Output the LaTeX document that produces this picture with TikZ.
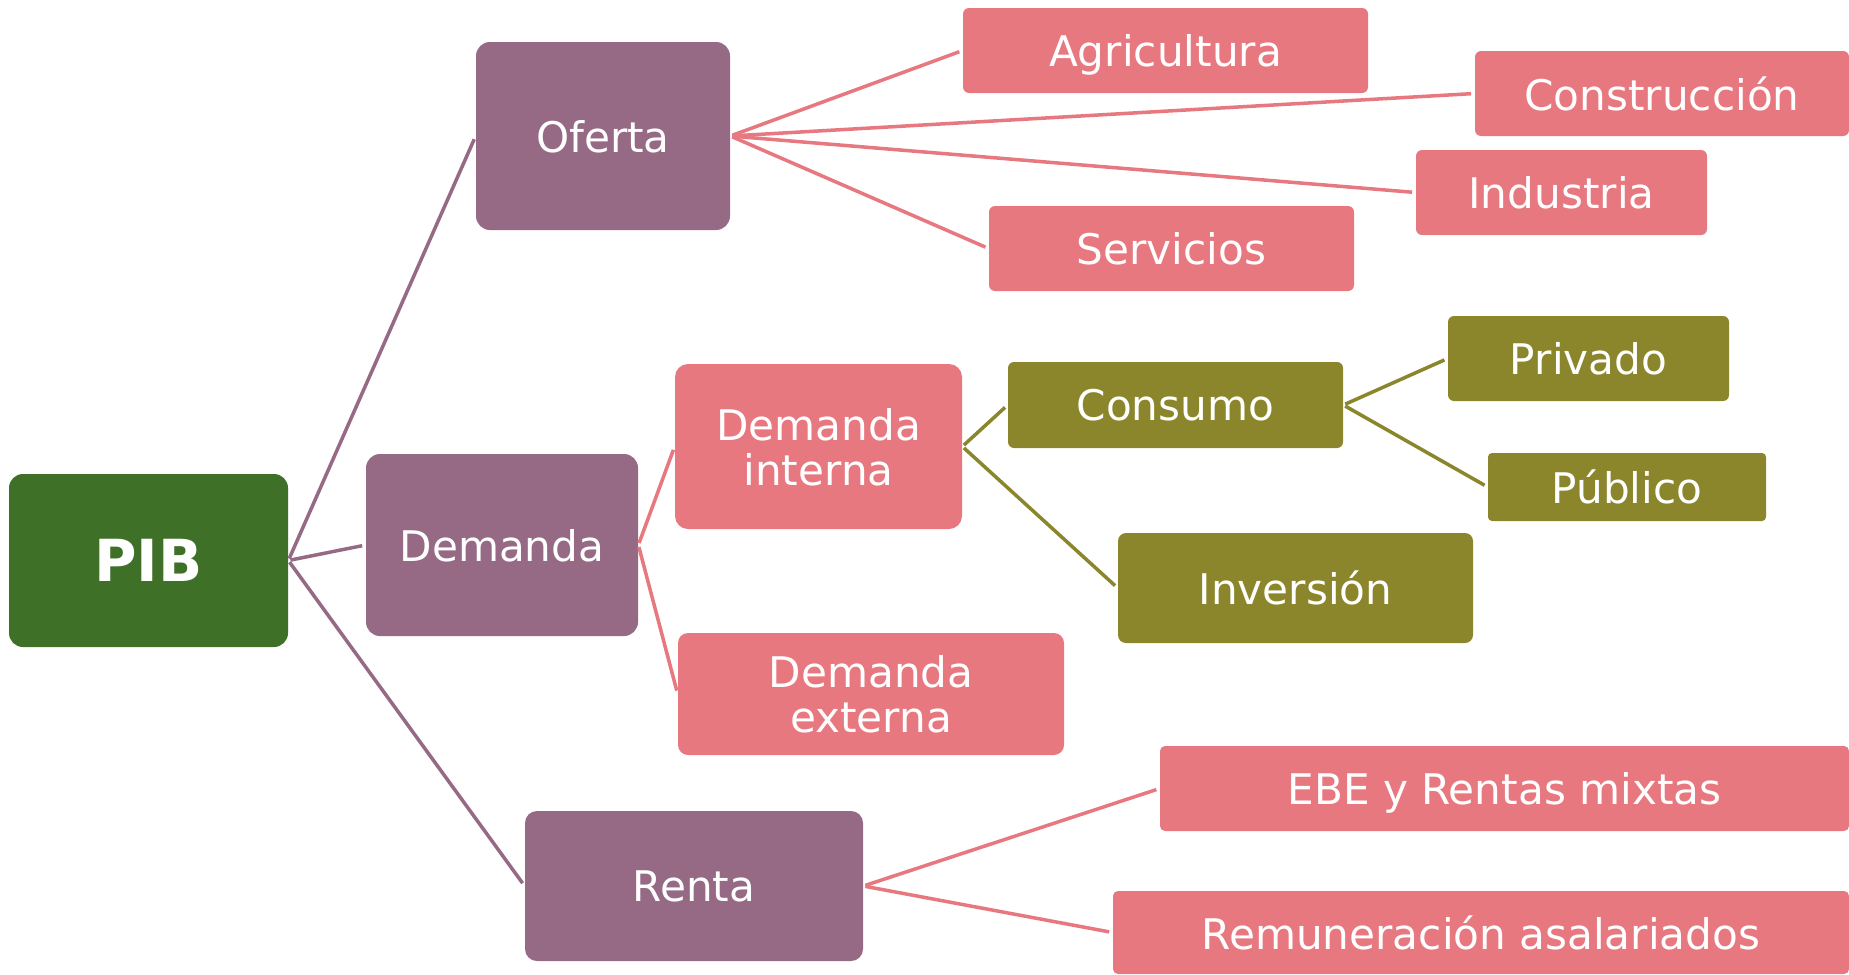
\documentclass[tikz,border=0pt]{standalone}
\usepackage{fontspec}
\setmainfont{DejaVu Sans}
\definecolor{cgreen}{RGB}{63,112,40}
\definecolor{cpurple}{RGB}{150,106,133}
\definecolor{cpink}{RGB}{232,120,127}
\definecolor{colive}{RGB}{139,134,43}
\tikzset{
  box/.style={rectangle, inner sep=0pt, text=white, align=center, text depth=0pt,
    font=\fontsize{24}{25.6}\selectfont},
  greenbox/.style={box, fill=cgreen, rounded corners=14*0.02cm,
    font=\fontsize{33}{36}\selectfont\bfseries},
  purplebox/.style={box, fill=cpurple, rounded corners=14*0.02cm},
  pinkbox/.style={box, fill=cpink, rounded corners=6*0.02cm},
  olivebox/.style={box, fill=colive, rounded corners=6*0.02cm},
  link/.style={line width=2pt, shorten <=1.2pt, shorten >=2pt},
  purplelink/.style={link, draw=cpurple},
  pinklink/.style={link, draw=cpink},
  olivelink/.style={link, draw=colive}
}
\begin{document}
\begin{tikzpicture}[x=0.02cm,y=-0.02cm]
\useasboundingbox (0,0) rectangle (1849,974);
% level 0
\node[greenbox, minimum width=279*0.02cm, minimum height=173*0.02cm] (pib) at (148.5,560.5) {PIB};
% level 1
\node[purplebox, minimum width=254*0.02cm, minimum height=188*0.02cm] (oferta) at (603,136) {Oferta};
\node[purplebox, minimum width=272*0.02cm, minimum height=182*0.02cm] (demanda) at (502,545) {Demanda};
\node[purplebox, minimum width=338*0.02cm, minimum height=150*0.02cm, rounded corners=12*0.02cm] (renta) at (694,886) {Renta};
% oferta children
\node[pinkbox, minimum width=405*0.02cm, minimum height=85*0.02cm] (agri) at (1165.5,50.5) {Agricultura};
\node[pinkbox, minimum width=374*0.02cm, minimum height=85*0.02cm] (cons) at (1662,93.5) {Construcción};
\node[pinkbox, minimum width=291*0.02cm, minimum height=85*0.02cm] (indu) at (1561.5,192.5) {Industria};
\node[pinkbox, minimum width=365*0.02cm, minimum height=85*0.02cm] (serv) at (1171.5,248.5) {Servicios};
% demanda children
\node[pinkbox, minimum width=287*0.02cm, minimum height=165*0.02cm, rounded corners=13*0.02cm] (dint) at (818.5,446.5) {Demanda\\interna};
\node[pinkbox, minimum width=386*0.02cm, minimum height=122*0.02cm, rounded corners=10*0.02cm] (dext) at (871,694) {Demanda\\externa};
% demanda interna children
\node[olivebox, minimum width=335*0.02cm, minimum height=86*0.02cm] (consumo) at (1175.5,405) {Consumo};
\node[olivebox, minimum width=355*0.02cm, minimum height=110*0.02cm, rounded corners=8*0.02cm] (inv) at (1295.5,588) {Inversión};
% consumo children
\node[olivebox, minimum width=281*0.02cm, minimum height=85*0.02cm] (priv) at (1588.5,358.5) {Privado};
\node[olivebox, minimum width=278*0.02cm, minimum height=68*0.02cm, rounded corners=4*0.02cm] (pub) at (1627,487) {Público};
% renta children
\node[pinkbox, minimum width=689*0.02cm, minimum height=85*0.02cm, rounded corners=5*0.02cm] (ebe) at (1504.5,788.5) {EBE y Rentas mixtas};
\node[pinkbox, minimum width=736*0.02cm, minimum height=83*0.02cm, rounded corners=5*0.02cm] (remu) at (1481,932.5) {Remuneración asalariados};
% connectors
\draw[purplelink] (pib.east) -- (oferta.west);
\draw[purplelink] (pib.east) -- (demanda.west);
\draw[purplelink] (pib.east) -- (renta.west);
\draw[pinklink] (oferta.east) -- (agri.west);
\draw[pinklink] (oferta.east) -- (cons.west);
\draw[pinklink] (oferta.east) -- (indu.west);
\draw[pinklink] (oferta.east) -- (serv.west);
\draw[pinklink] (demanda.east) -- (dint.west);
\draw[pinklink] (demanda.east) -- (dext.west);
\draw[olivelink] (dint.east) -- (consumo.west);
\draw[olivelink] (dint.east) -- (inv.west);
\draw[olivelink] (consumo.east) -- (priv.west);
\draw[olivelink] (consumo.east) -- (pub.west);
\draw[pinklink] (renta.east) -- (ebe.west);
\draw[pinklink] (renta.east) -- (remu.west);
\end{tikzpicture}
\end{document}
